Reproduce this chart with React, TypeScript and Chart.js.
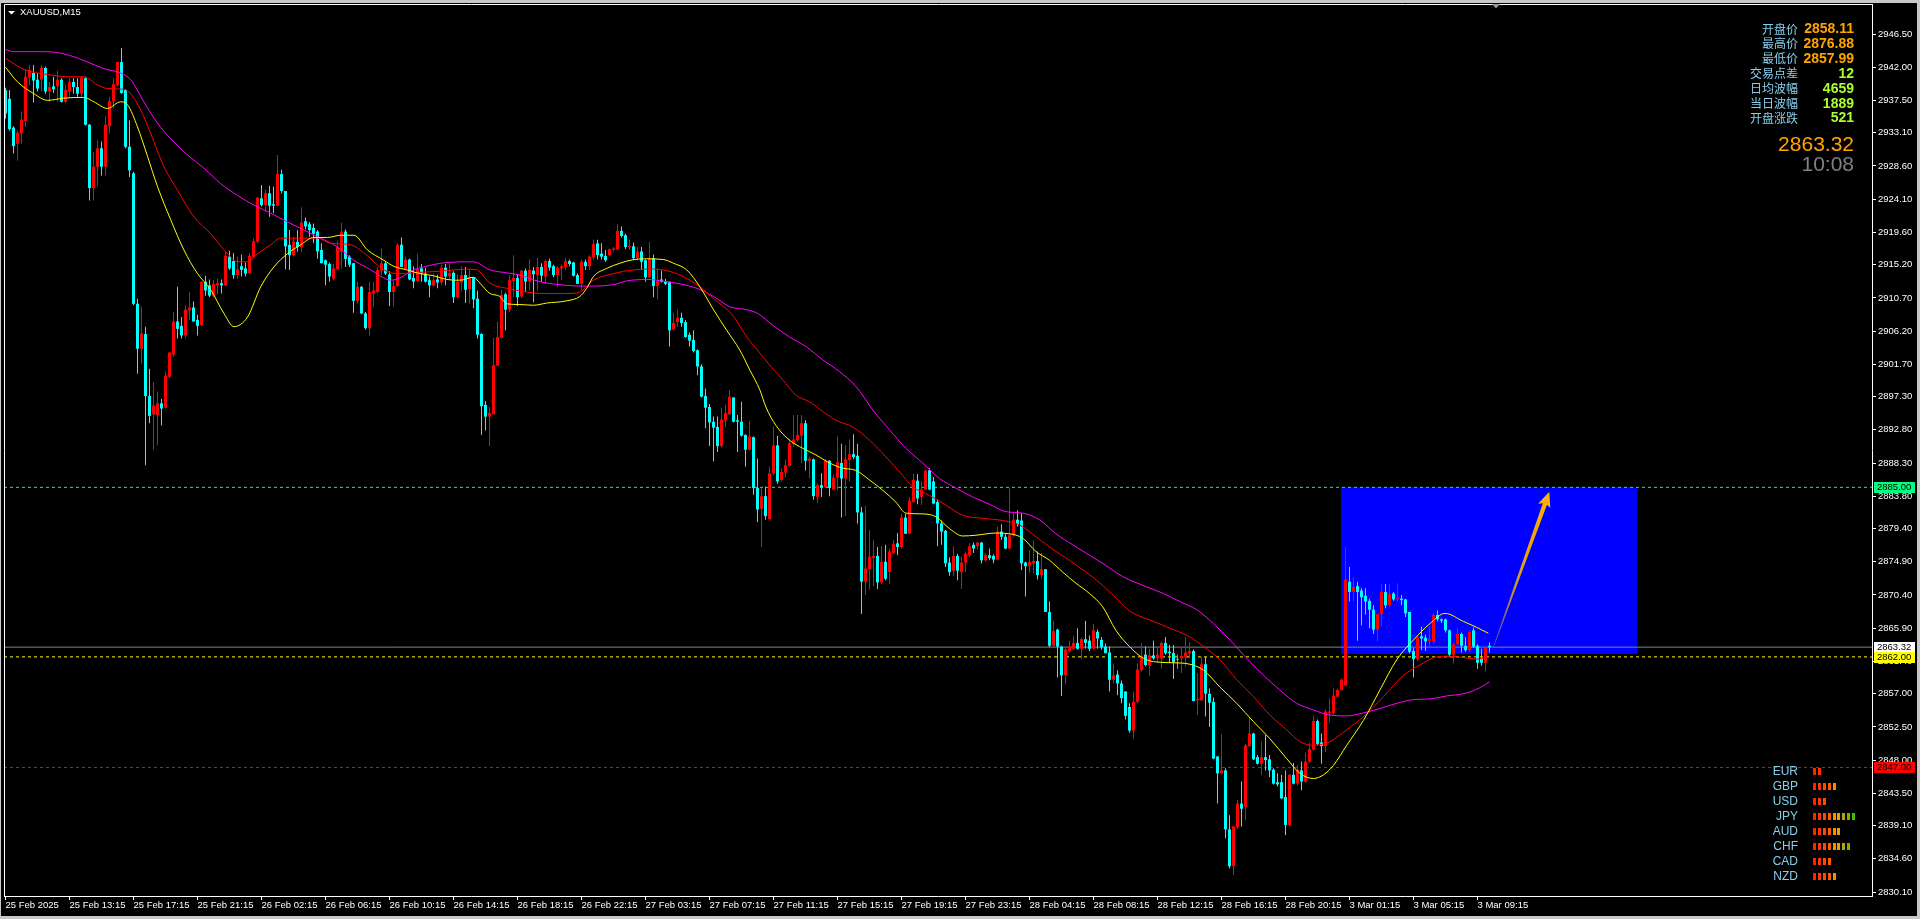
import React, { useEffect, useRef } from "react";
import { Chart, registerables } from "chart.js";

Chart.register(...registerables);

// ---------------- DATA ----------------
const SYMBOL = "XAUUSD,M15";

// 15-minute candles, bar 0 = 25 Feb 09:15 ... bar 371 = 3 Mar 10:00
const OPEN = [
  2938.9,2937.7,2933.8,2931.6,2933.0,2934.7,2940.6,2941.2,2940.3,2940.3,
  2941.9,2938.7,2939.4,2939.4,2940.3,2937.3,2938.7,2940.0,2939.3,2938.4,
  2940.5,2934.2,2925.6,2928.5,2931.0,2928.5,2934.0,2937.4,2939.6,2942.7,
  2938.9,2931.2,2927.6,2909.9,2903.8,2905.8,2897.4,2894.9,2894.8,2896.4,
  2895.8,2900.0,2903.0,2907.5,2906.9,2905.6,2909.0,2909.4,2907.7,2907.0,
  2912.9,2912.4,2911.0,2912.4,2912.7,2912.4,2916.3,2915.7,2913.8,2915.0,
  2914.7,2914.1,2916.3,2918.3,2924.2,2923.3,2924.9,2923.4,2923.2,2927.5,
  2925.2,2917.9,2916.5,2918.3,2917.6,2921.1,2920.7,2920.2,2919.7,2917.2,
  2915.8,2915.3,2913.3,2914.6,2917.0,2919.7,2916.3,2915.4,2910.3,2912.2,
  2908.6,2906.6,2911.3,2911.5,2914.4,2915.4,2913.9,2911.5,2912.3,2917.9,
  2914.6,2915.9,2913.4,2913.0,2914.7,2914.0,2913.1,2912.4,2913.2,2912.8,
  2914.8,2913.6,2914.1,2910.8,2912.8,2913.8,2911.9,2913.4,2910.6,2905.8,
  2896.2,2894.6,2894.9,2901.5,2905.3,2911.2,2909.1,2913.0,2913.4,2910.9,
  2914.4,2912.9,2914.4,2913.8,2914.9,2913.6,2915.7,2915.0,2913.8,2914.7,
  2914.9,2915.7,2915.5,2913.8,2912.6,2915.6,2915.0,2916.2,2918.1,2916.7,
  2916.4,2916.5,2917.2,2917.3,2919.8,2919.2,2917.6,2917.7,2916.1,2917.0,
  2915.8,2913.5,2916.1,2912.3,2913.2,2912.9,2912.9,2906.4,2907.4,2908.0,
  2907.4,2905.7,2905.0,2903.6,2901.4,2897.4,2895.9,2893.9,2893.2,2890.6,
  2894.1,2894.9,2897.2,2894.1,2893.9,2892.1,2890.1,2891.8,2884.9,2882.1,
  2883.8,2880.7,2886.9,2890.7,2886.0,2887.0,2887.9,2890.9,2891.4,2892.0,
  2893.7,2888.6,2888.8,2883.7,2885.3,2885.0,2888.6,2884.7,2886.3,2888.3,
  2886.2,2888.7,2889.5,2889.3,2881.6,2872.2,2873.9,2875.4,2875.7,2872.1,
  2874.9,2873.5,2876.1,2877.4,2876.9,2880.9,2878.7,2883.0,2885.9,2883.7,
  2884.7,2887.3,2885.8,2883.0,2880.1,2879.1,2874.8,2873.7,2875.7,2873.5,
  2874.8,2875.8,2877.2,2877.0,2877.5,2875.1,2875.8,2875.7,2875.2,2879.0,
  2878.3,2876.7,2878.5,2880.6,2880.5,2874.8,2874.3,2874.7,2875.0,2873.1,
  2873.9,2868.1,2863.5,2865.7,2863.4,2859.5,2862.8,2863.1,2863.9,2863.1,
  2864.4,2864.2,2863.1,2865.4,2864.3,2863.4,2862.6,2858.9,2859.6,2858.4,
  2857.3,2855.2,2852.0,2855.9,2860.2,2862.3,2860.8,2862.2,2861.8,2861.8,
  2863.9,2862.7,2862.5,2861.6,2861.8,2862.0,2862.5,2862.8,2856.1,2856.1,
  2861.0,2857.0,2855.9,2848.5,2846.2,2846.6,2838.6,2833.6,2838.9,2842.1,
  2841.6,2849.9,2851.6,2848.4,2847.5,2848.4,2848.1,2846.7,2845.0,2845.0,
  2843.0,2839.2,2846.0,2844.8,2846.6,2845.1,2847.8,2849.4,2853.3,2850.4,
  2849.9,2854.4,2854.4,2856.6,2857.5,2858.1,2872.2,2870.8,2871.6,2871.0,
  2870.3,2869.6,2868.4,2865.7,2867.8,2870.8,2869.0,2870.6,2869.8,2869.9,
  2869.8,2868.1,2862.8,2861.7,2864.8,2864.6,2864.1,2864.1,2867.7,2867.1,
  2867.1,2865.6,2862.3,2863.7,2865.1,2863.5,2862.9,2865.6,2863.5,2861.8,
  2861.2,2863.5,
];

const HIGH = [
  2939.2,2938.9,2934.0,2933.4,2936.0,2941.6,2942.3,2942.3,2941.2,2942.3,
  2942.1,2940.0,2940.7,2941.5,2940.5,2939.6,2940.5,2940.5,2940.5,2940.7,
  2940.7,2934.3,2930.5,2932.1,2931.9,2935.4,2938.0,2940.5,2942.7,2944.6,
  2939.0,2934.8,2927.8,2910.6,2909.5,2906.8,2901.1,2899.3,2898.0,2897.0,
  2900.7,2903.3,2908.8,2912.2,2908.1,2909.7,2911.5,2910.2,2908.4,2912.9,
  2913.7,2913.2,2913.1,2913.3,2913.2,2917.0,2917.1,2916.8,2916.3,2916.6,
  2915.5,2916.8,2918.8,2924.4,2926.0,2925.4,2925.9,2925.8,2930.1,2928.1,
  2925.2,2919.9,2919.0,2919.9,2923.0,2921.6,2921.0,2920.8,2919.9,2918.1,
  2915.9,2915.5,2915.3,2918.5,2920.9,2920.0,2916.5,2915.4,2912.9,2912.3,
  2908.8,2912.9,2912.9,2914.9,2917.4,2915.6,2914.3,2913.1,2918.1,2918.9,
  2916.3,2916.0,2915.0,2916.7,2915.3,2914.8,2913.6,2914.0,2913.8,2915.2,
  2915.3,2915.4,2914.3,2913.9,2915.0,2914.9,2914.6,2913.5,2911.7,2905.9,
  2896.7,2895.9,2905.3,2907.5,2911.8,2911.4,2913.8,2916.5,2913.8,2914.5,
  2914.7,2915.9,2914.9,2916.1,2915.4,2915.9,2916.0,2915.2,2915.0,2915.2,
  2916.1,2915.9,2915.6,2914.0,2915.9,2915.9,2916.5,2918.6,2918.6,2918.1,
  2917.2,2917.4,2917.6,2920.7,2920.4,2919.4,2918.6,2918.2,2917.6,2917.6,
  2915.9,2918.3,2916.6,2914.7,2914.4,2913.3,2912.9,2908.6,2909.1,2908.7,
  2907.7,2906.0,2906.3,2903.7,2901.7,2898.4,2896.3,2894.6,2894.6,2895.8,
  2896.2,2898.2,2897.2,2894.8,2896.6,2892.2,2894.0,2891.9,2888.9,2884.9,
  2885.1,2887.8,2893.3,2892.0,2887.6,2888.8,2891.6,2894.8,2894.8,2894.8,
  2894.1,2889.1,2888.9,2885.5,2886.9,2888.8,2888.7,2886.7,2891.9,2890.9,
  2890.7,2891.5,2892.2,2890.9,2882.3,2882.5,2879.2,2877.9,2876.9,2877.0,
  2877.2,2876.7,2877.9,2878.8,2881.4,2881.4,2883.7,2886.8,2886.8,2885.8,
  2887.3,2887.6,2886.4,2883.3,2880.5,2879.2,2875.5,2877.0,2876.0,2875.6,
  2876.3,2877.4,2877.5,2877.6,2877.6,2876.1,2876.7,2875.9,2879.7,2880.0,
  2878.7,2884.9,2881.5,2881.9,2881.5,2874.9,2876.5,2877.8,2876.3,2876.1,
  2873.9,2869.5,2866.9,2865.8,2863.5,2863.4,2864.2,2864.8,2865.9,2864.6,
  2866.9,2864.9,2866.5,2865.7,2864.7,2863.8,2863.4,2861.1,2860.2,2858.8,
  2857.3,2855.7,2857.3,2861.1,2863.8,2863.4,2863.1,2864.2,2863.4,2864.1,
  2864.7,2863.6,2863.6,2862.3,2863.2,2864.7,2864.0,2863.0,2859.8,2862.0,
  2862.0,2857.7,2856.5,2848.5,2851.5,2846.9,2840.5,2839.0,2842.6,2845.1,
  2850.2,2853.7,2851.7,2848.7,2850.5,2851.4,2848.7,2846.9,2846.2,2846.0,
  2846.6,2846.1,2847.6,2847.3,2847.8,2849.0,2850.4,2854.0,2853.5,2851.6,
  2854.9,2856.4,2857.7,2857.7,2859.1,2876.9,2874.2,2872.8,2872.2,2871.3,
  2871.3,2869.9,2869.0,2867.9,2871.9,2871.9,2871.9,2870.8,2872.0,2870.4,
  2869.9,2868.1,2863.2,2864.8,2866.1,2865.0,2866.1,2867.9,2868.3,2867.2,
  2867.2,2865.7,2863.9,2865.9,2865.3,2864.7,2865.6,2866.0,2863.7,2863.1,
  2863.5,2864.0,
];

const LOW = [
  2935.0,2933.4,2930.3,2929.3,2931.6,2933.9,2939.5,2937.2,2938.7,2938.7,
  2938.4,2937.3,2938.5,2937.3,2937.2,2937.1,2938.0,2938.4,2938.0,2938.0,
  2934.1,2923.9,2923.9,2925.8,2927.3,2927.3,2933.0,2936.4,2939.4,2938.4,
  2931.0,2927.1,2909.7,2900.4,2901.8,2888.0,2893.7,2890.1,2890.7,2893.4,
  2895.7,2899.8,2902.7,2905.2,2905.2,2905.2,2907.7,2907.5,2905.6,2906.9,
  2911.0,2910.8,2910.8,2911.2,2911.3,2912.3,2914.5,2913.3,2913.3,2913.6,
  2913.6,2914.0,2916.1,2918.1,2923.1,2922.4,2921.7,2922.2,2923.1,2924.9,
  2914.6,2914.5,2916.3,2917.0,2916.9,2920.0,2919.0,2918.1,2916.0,2915.4,
  2912.4,2912.9,2913.1,2914.6,2914.7,2914.9,2914.9,2908.7,2909.9,2908.5,
  2906.4,2905.6,2909.5,2911.3,2913.8,2913.8,2909.6,2909.5,2912.2,2914.9,
  2914.5,2913.1,2912.0,2912.9,2912.9,2912.8,2910.8,2912.2,2912.0,2912.4,
  2912.4,2913.1,2910.0,2910.6,2911.7,2910.0,2909.9,2909.3,2905.2,2892.1,
  2892.7,2890.6,2894.9,2901.5,2905.2,2906.3,2908.8,2910.8,2909.6,2910.7,
  2911.5,2911.7,2910.1,2911.7,2912.9,2912.6,2914.4,2913.5,2912.2,2913.1,
  2914.5,2915.0,2913.6,2912.6,2911.8,2914.5,2914.5,2915.9,2915.9,2915.9,
  2915.6,2916.3,2917.0,2917.2,2918.9,2917.3,2917.2,2915.8,2915.8,2914.5,
  2912.9,2913.4,2910.8,2910.5,2912.8,2912.4,2904.1,2906.3,2906.8,2906.8,
  2905.3,2904.1,2903.3,2900.2,2897.2,2893.0,2890.6,2888.5,2889.8,2890.4,
  2893.2,2894.8,2893.8,2889.8,2891.9,2887.8,2890.0,2884.0,2880.3,2876.9,
  2880.6,2880.5,2886.7,2885.5,2885.8,2886.4,2887.8,2890.5,2891.2,2888.3,
  2887.3,2886.2,2883.3,2882.9,2883.7,2884.9,2883.8,2884.6,2884.6,2880.9,
  2881.1,2885.8,2888.8,2880.1,2867.8,2870.4,2871.1,2871.6,2871.2,2871.9,
  2872.4,2871.9,2875.9,2875.8,2876.7,2878.7,2878.7,2882.9,2882.7,2882.6,
  2884.6,2884.6,2882.7,2877.0,2877.2,2874.2,2873.0,2873.0,2872.4,2871.2,
  2873.5,2875.5,2876.1,2876.6,2874.7,2874.9,2875.1,2874.7,2875.1,2877.9,
  2876.6,2876.6,2878.3,2879.7,2873.8,2870.2,2873.4,2873.3,2872.5,2872.6,
  2868.1,2863.3,2863.4,2859.2,2856.7,2858.3,2862.6,2863.0,2863.0,2861.7,
  2863.1,2862.8,2863.0,2863.1,2863.0,2862.5,2857.3,2858.4,2856.8,2855.7,
  2853.5,2851.7,2850.9,2855.7,2860.0,2860.7,2859.4,2861.6,2861.3,2860.4,
  2862.3,2861.3,2859.0,2860.4,2859.8,2860.7,2861.8,2856.0,2854.1,2856.0,
  2853.9,2852.5,2848.1,2842.1,2846.2,2837.4,2833.3,2832.4,2838.7,2839.0,
  2839.9,2849.8,2848.0,2847.4,2846.0,2846.6,2845.7,2844.7,2844.4,2842.7,
  2837.8,2839.0,2844.7,2844.5,2843.9,2844.9,2847.6,2849.3,2850.0,2847.5,
  2849.1,2853.1,2854.2,2856.5,2857.4,2858.0,2869.5,2869.5,2864.2,2866.3,
  2867.7,2865.9,2865.1,2864.1,2866.1,2868.6,2868.8,2869.6,2869.5,2869.0,
  2867.4,2862.5,2859.2,2861.4,2862.9,2862.8,2863.2,2863.7,2866.8,2866.6,
  2865.3,2862.0,2861.1,2863.5,2862.6,2862.7,2862.7,2863.2,2860.4,2860.8,
  2860.0,2862.6,
];

const CLOSE = [
  2935.7,2933.6,2931.3,2933.1,2934.9,2940.7,2941.6,2940.2,2939.1,2941.9,
  2938.7,2939.3,2939.0,2940.3,2937.3,2938.9,2940.0,2939.3,2938.4,2940.6,
  2934.2,2925.6,2928.5,2931.0,2928.5,2934.2,2937.4,2939.7,2942.7,2938.5,
  2931.2,2928.0,2909.9,2903.8,2905.9,2897.4,2894.7,2896.1,2896.4,2895.7,
  2900.1,2903.3,2907.5,2906.5,2905.6,2909.1,2909.4,2907.5,2906.9,2912.9,
  2911.7,2911.0,2912.6,2912.7,2912.4,2916.4,2914.7,2913.8,2914.6,2914.5,
  2914.0,2916.4,2918.4,2924.3,2923.3,2924.9,2923.2,2923.2,2927.5,2925.2,
  2917.7,2916.5,2918.3,2917.6,2920.9,2920.4,2919.9,2919.4,2917.0,2915.4,
  2915.2,2913.6,2914.7,2917.6,2919.7,2916.0,2915.2,2910.3,2912.2,2908.6,
  2906.6,2911.5,2911.7,2914.5,2915.4,2914.0,2911.5,2912.3,2917.9,2914.9,
  2915.9,2913.2,2912.9,2914.6,2914.0,2912.9,2912.4,2913.1,2912.8,2914.8,
  2913.6,2914.1,2910.8,2912.9,2913.8,2911.8,2913.5,2910.5,2905.7,2896.0,
  2894.6,2895.1,2901.6,2905.4,2911.1,2909.1,2913.1,2913.4,2910.8,2914.4,
  2912.9,2914.5,2913.9,2914.9,2913.7,2915.7,2914.8,2913.8,2914.8,2915.0,
  2915.7,2915.3,2913.7,2912.6,2915.6,2915.0,2916.3,2918.0,2916.5,2916.3,
  2915.8,2917.3,2917.4,2919.8,2919.1,2917.6,2917.7,2916.1,2917.0,2915.6,
  2913.5,2916.1,2912.3,2913.0,2912.9,2912.6,2906.3,2907.3,2908.0,2907.3,
  2905.4,2904.9,2903.5,2901.4,2897.3,2895.8,2893.8,2893.1,2890.6,2894.2,
  2895.1,2897.3,2893.9,2893.9,2892.0,2890.1,2891.9,2884.9,2882.0,2883.8,
  2881.1,2886.9,2890.7,2885.8,2887.1,2888.0,2891.0,2891.5,2892.1,2893.7,
  2888.6,2888.9,2883.8,2885.3,2885.0,2888.6,2884.9,2886.3,2888.4,2886.2,
  2888.8,2889.5,2889.1,2881.6,2872.2,2874.0,2875.6,2875.7,2872.1,2874.9,
  2872.6,2876.3,2877.3,2876.9,2880.9,2878.7,2883.2,2886.0,2883.5,2884.7,
  2887.3,2884.7,2882.8,2880.1,2879.0,2874.7,2873.5,2875.7,2873.7,2874.8,
  2876.0,2877.0,2876.7,2877.5,2875.1,2875.8,2875.4,2875.2,2879.0,2878.3,
  2876.7,2878.5,2880.6,2880.0,2874.7,2874.3,2874.9,2875.0,2873.1,2873.9,
  2868.1,2863.5,2865.5,2863.4,2859.5,2863.0,2863.4,2863.9,2863.1,2864.4,
  2863.9,2863.1,2865.6,2864.5,2863.3,2862.5,2858.9,2859.5,2858.4,2856.4,
  2854.0,2852.0,2855.9,2860.3,2862.1,2860.9,2862.2,2861.8,2862.3,2863.9,
  2862.5,2862.5,2861.3,2861.6,2862.1,2862.6,2862.8,2856.0,2856.3,2861.0,
  2857.0,2855.8,2848.2,2846.2,2846.6,2838.6,2833.6,2839.0,2842.1,2841.4,
  2850.0,2851.6,2848.1,2847.5,2848.4,2848.0,2846.6,2844.8,2844.7,2842.8,
  2839.2,2846.0,2844.8,2846.7,2845.1,2847.8,2849.5,2853.3,2850.2,2849.9,
  2854.6,2854.6,2856.7,2857.5,2858.9,2872.5,2870.8,2871.5,2870.8,2870.1,
  2869.5,2868.4,2865.7,2867.8,2870.8,2869.0,2870.5,2869.8,2869.9,2869.7,
  2867.9,2862.7,2861.7,2864.6,2864.5,2864.1,2864.4,2867.7,2867.1,2866.9,
  2865.6,2862.3,2863.7,2865.1,2863.5,2862.9,2865.4,2863.4,2861.2,2861.2,
  2863.3,2863.32,
];

// moving averages (read at sample bars)
const MA_FAST_BARS = [0,3,7.1,10.5,14.6,19.6,22.1,25.5,28.8,30.5,33,35.5,38,41.3,44.6,48,51.3,54.6,57.1,60.5,63.8,67.1,70.5,73.8,77.1,80.5,83.8,87.1,90.5,94.6,97,100.3,103.6,107,110.3,113.6,117,118.6,121.1,123.6,125.3,128.6,132,135.3,140.3,143.6,145.3,147,150.3,153.6,157,160.3,164.5,167,170.3,173.6,177,180.3,183.6,186.1,188.6,190.1,192.6,196,199.3,202.6,206,209.3,212.6,216,219.3,222.6,225.1,229.3,232.6,236,239.3,242.6,247.6,251,254.3,257.6,261,264.3,267.6,271,274.3,277.6,281,284.5,287.8,292,296.1,299.5,303.6,307.8,312,316.1,320.3,323.6,327,329.5,332,335.3,339.5,343.6,347.8,352,356.1,359.9,364.5,367.8,370.7];
const MA_FAST_VALUES = [2942.0,2940.0,2938.4,2937.5,2937.8,2937.9,2937.3,2936.4,2937.3,2936.9,2933.9,2929.9,2925.8,2921.3,2917.2,2914.0,2911.8,2908.6,2906.8,2908.1,2912.2,2914.9,2916.7,2917.9,2918.9,2918.9,2919.2,2919.2,2917.2,2915.8,2915.0,2914.5,2914.0,2913.7,2913.2,2913.1,2913.5,2912.7,2911.3,2910.9,2909.9,2909.8,2909.7,2910.0,2910.3,2910.9,2912.0,2913.6,2914.7,2915.4,2915.9,2916.0,2915.9,2915.4,2914.5,2912.2,2909.1,2906.3,2903.6,2900.9,2898.2,2895.9,2893.4,2891.4,2890.3,2889.4,2888.3,2887.6,2887.3,2886.0,2884.6,2883.0,2881.5,2881.4,2881.0,2879.4,2878.4,2878.5,2878.8,2878.7,2878.1,2876.3,2875.1,2873.5,2872.0,2870.6,2868.8,2865.6,2863.4,2861.8,2861.3,2861.2,2861.0,2860.2,2857.9,2855.7,2853.2,2850.9,2848.2,2846.2,2845.5,2846.0,2847.3,2850.0,2853.4,2857.5,2861.6,2864.3,2866.5,2867.9,2866.8,2866.0,2865.2];

const MA_MID_BARS = [0,4.6,10.5,16.3,19.6,23,25.5,29.6,31.3,33.8,36.3,39.6,43,47.1,51.3,55,58,60.5,63,66.3,68.8,73,78,81.3,86.3,89.6,94.6,97.8,102,110.3,115.3,117.8,121.1,125.3,130.3,133.6,140.3,143.6,147,152,157,162,165.3,168.6,173.6,177,182,185.3,188,191,194.3,197.6,201,204.3,207.6,211.8,216,219.3,223.5,226.8,231,235.1,239.3,244.3,249.3,253.5,257.6,261.8,266,270.1,274.3,278.5,281.1,286.1,291.1,296.1,299.5,303.6,307.8,312,316.1,320.3,323.6,327,331.1,335.3,339.5,344.5,349.5,353.6,357.8,361.1,364.5,367.8,371];
const MA_MID_VALUES = [2943.2,2941.7,2941.0,2940.7,2940.7,2939.6,2939.1,2939.0,2938.4,2936.2,2933.0,2928.5,2925.3,2921.7,2919.4,2917.0,2915.6,2915.6,2916.7,2917.9,2918.8,2918.8,2918.8,2918.1,2917.9,2916.8,2914.5,2914.0,2914.1,2914.4,2914.6,2914.5,2912.7,2912.0,2911.5,2911.3,2911.3,2911.5,2913.1,2914.0,2914.5,2914.6,2914.4,2913.8,2912.2,2910.6,2908.2,2905.4,2903.6,2901.6,2899.6,2897.5,2896.6,2895.3,2894.1,2893.2,2891.4,2889.6,2887.1,2885.1,2883.9,2882.6,2881.2,2880.8,2880.5,2879.9,2878.3,2876.6,2875.1,2873.5,2871.7,2869.5,2868.2,2867.0,2865.9,2864.7,2863.4,2861.6,2858.9,2856.6,2854.1,2852.1,2850.5,2850.0,2850.5,2852.1,2853.9,2856.6,2859.5,2860.9,2862.0,2862.1,2861.9,2861.7,2862.0];

const MA_SLOW_BARS = [0,2,10.5,16,20.5,24.6,28.8,31.3,34.6,38,41.3,45.5,49.6,53.8,58,62.1,66.3,70.5,74.6,78.8,83,87.1,91.3,94.6,96.1,98.6,102,104.5,110.3,117,121.1,125.3,128.6,133.6,140.3,145.3,152,155.3,160.3,165.3,168.6,172.8,177,181.1,185.3,188,191.8,196,200.1,204.3,208.5,212.6,216.8,221,225.1,229.3,233.5,237.6,241.8,246,250.1,254.3,258.5,262.6,266.8,271,275.1,279.3,285.3,289.5,293.6,297.8,302,306.1,310.3,314.5,318.6,322.8,327,331.1,335.3,339.5,343.6,347.8,352,356.1,360.3,364.5,367.8,371];
const MA_SLOW_VALUES = [2944.4,2944.1,2944.1,2943.6,2942.7,2941.8,2941.2,2940.3,2937.3,2934.4,2932.3,2930.1,2928.3,2926.2,2924.6,2923.3,2922.2,2921.0,2919.9,2918.8,2917.6,2915.8,2914.5,2913.4,2913.1,2913.4,2914.5,2914.9,2915.5,2915.6,2914.5,2914.1,2913.8,2912.9,2912.4,2912.3,2912.5,2913.0,2913.2,2912.9,2912.6,2912.0,2910.9,2909.5,2909.1,2908.6,2907.0,2905.4,2904.1,2902.3,2900.7,2898.7,2895.5,2892.8,2890.3,2888.3,2886.2,2884.9,2883.7,2882.7,2881.7,2881.5,2880.6,2878.7,2877.2,2875.8,2874.4,2872.9,2871.5,2870.6,2869.5,2868.4,2866.5,2864.3,2861.8,2859.5,2857.5,2855.7,2854.8,2854.1,2854.0,2854.4,2855.0,2855.7,2856.2,2856.3,2856.7,2857.0,2857.6,2858.6];

// time axis labels (every 16 bars)
const X_TICK_BARS = [0,16,32,48,64,80,96,112,128,144,160,176,192,208,224,240,256,272,288,304,320,336,352,368];
const X_TICK_LABELS = [
  "25 Feb 2025","25 Feb 13:15","25 Feb 17:15","25 Feb 21:15","26 Feb 02:15","26 Feb 06:15",
  "26 Feb 10:15","26 Feb 14:15","26 Feb 18:15","26 Feb 22:15","27 Feb 03:15","27 Feb 07:15",
  "27 Feb 11:15","27 Feb 15:15","27 Feb 19:15","27 Feb 23:15","28 Feb 04:15","28 Feb 08:15",
  "28 Feb 12:15","28 Feb 16:15","28 Feb 20:15","3 Mar 01:15","3 Mar 05:15","3 Mar 09:15",
];
const Y_TICKS = [2946.5,2942.0,2937.5,2933.1,2928.6,2924.1,2919.6,2915.2,2910.7,2906.2,2901.7,2897.3,2892.8,2888.3,2883.8,2879.4,2874.9,2870.4,2865.9,2861.4,2857.0,2852.5,2848.0,2843.5,2839.1,2834.6,2830.1];

// levels & objects
const LEVEL_TARGET = 2885.0;
const LEVEL_ENTRY = 2862.0;
const LEVEL_STOP = 2847.0;
const BID = 2863.32;
const ZONE_BARS = [333.875, 407.875];
const ZONE_PRICES = [2862.4, 2885.0];
const ARROW_BARS = [372.1, 385.95];
const ARROW_PRICES = [2863.5, 2884.4];

// info panel
const INFO_LABELS = ["开盘价","最高价","最低价","交易点差","日均波幅","当日波幅","开盘涨跌"];
const INFO_VALUES = ["2858.11","2876.88","2857.99","12","4659","1889","521"];
const CLOCK = "10:08";

// currency strength panel
const CURRENCIES = ["EUR","GBP","USD","JPY","AUD","CHF","CAD","NZD"];
const STRENGTH = [2,5,3,9,6,8,4,5];

// ---------------- STYLE ----------------
const W = 1920, H = 919;
const X_MIN = -0.375, X_MAX = 466.625;
const Y_MIN = 2829.56, Y_MAX = 2950.57;
const BULL = "#FF0000", BEAR = "#00FFFF", DOJI = "#00FF00";
const STRENGTH_COLORS = ["#FF2400","#FF3600","#FF4800","#FF5A00","#FF8A00","#E8A000","#B4A400","#84AC00","#3CC400"];
const FONT = "Liberation Sans";

export default function App() {
  const ref = useRef<HTMLCanvasElement | null>(null);

  useEffect(() => {
    const canvas = ref.current;
    if (!canvas) return;

    const colors = OPEN.map((o, i) => (CLOSE[i] > o ? BULL : CLOSE[i] < o ? BEAR : DOJI));
    const wickData = OPEN.map((o, i) => ({ x: i, y: [LOW[i], HIGH[i]] }));
    const bodyData = OPEN.map((o, i) => ({ x: i, y: [Math.min(o, CLOSE[i]), Math.max(o, CLOSE[i])] }));

    const level = (v: number, color: string, dash: number[], order: number) => ({
      type: "line",
      data: [{ x: X_MIN, y: v }, { x: X_MAX, y: v }],
      borderColor: color, borderWidth: 1, borderDash: dash,
      pointRadius: 0, fill: false, order,
    });
    const ma = (xs: number[], ys: number[], color: string, order: number) => ({
      type: "line",
      data: xs.map((x, k) => ({ x, y: ys[k] })),
      borderColor: color, borderWidth: 1, pointRadius: 0,
      cubicInterpolationMode: "monotone", fill: false, order,
    });

    const datasets: any[] = [
      {
        type: "line",
        data: [{ x: ZONE_BARS[0], y: ZONE_PRICES[1] }, { x: ZONE_BARS[1], y: ZONE_PRICES[1] }],
        borderColor: "rgba(0,0,0,0)", borderWidth: 0, backgroundColor: "#0000FF",
        pointRadius: 0, fill: "+1", order: 30,
      },
      {
        type: "line",
        data: [{ x: ZONE_BARS[0], y: ZONE_PRICES[0] }, { x: ZONE_BARS[1], y: ZONE_PRICES[0] }],
        borderColor: "rgba(0,0,0,0)", borderWidth: 0, pointRadius: 0, fill: false, order: 29,
      },
      level(LEVEL_TARGET, "#00FF7F", [3, 3], 20),
      level(LEVEL_ENTRY, "#FFFF00", [3, 3], 20),
      level(LEVEL_STOP, "#FF0000", [3, 3], 20),
      level(BID, "#778899", [], 19),
      {
        type: "bar", data: wickData, backgroundColor: colors,
        barPercentage: 1, categoryPercentage: 1, maxBarThickness: 1,
        grouped: false, inflateAmount: 0, borderWidth: 0, order: 10,
      },
      {
        type: "bar", data: bodyData, backgroundColor: colors,
        barPercentage: 1, categoryPercentage: 1, maxBarThickness: 3, minBarLength: 1,
        grouped: false, inflateAmount: 0, borderWidth: 0, order: 9,
      },
      ma(MA_SLOW_BARS, MA_SLOW_VALUES, "#FF00FF", 5),
      ma(MA_MID_BARS, MA_MID_VALUES, "#FF0000", 4),
      ma(MA_FAST_BARS, MA_FAST_VALUES, "#FFFF00", 3),
    ];

    const overlay = {
      id: "mtOverlay",
      beforeDraw(chart: any) {
        const ctx = chart.ctx;
        ctx.save();
        ctx.fillStyle = "#000000";
        ctx.fillRect(0, 0, W, H);
        ctx.fillStyle = "#C8C8C8";
        ctx.fillRect(0, 0, W, 3);
        ctx.fillRect(0, 0, 1, H);
        ctx.fillRect(W - 3, 0, 3, H);
        ctx.fillRect(0, H - 3, W, 3);
        ctx.restore();
      },
      afterDraw(chart: any) {
        const ctx = chart.ctx;
        const xs = chart.scales.x, ys = chart.scales.y;
        const area = chart.chartArea;
        ctx.save();

        // frame top / left
        ctx.strokeStyle = "#FFFFFF";
        ctx.lineWidth = 1;
        ctx.beginPath();
        ctx.moveTo(area.left + 0.5, area.bottom);
        ctx.lineTo(area.left + 0.5, area.top + 0.5);
        ctx.lineTo(area.right + 0.5, area.top + 0.5);
        ctx.stroke();

        // arrow
        const tx = xs.getPixelForValue(ARROW_BARS[0]), ty = ys.getPixelForValue(ARROW_PRICES[0]);
        const hx = xs.getPixelForValue(ARROW_BARS[1]), hy = ys.getPixelForValue(ARROW_PRICES[1]);
        const dx = hx - tx, dy = hy - ty, len = Math.hypot(dx, dy);
        const ux = dx / len, uy = dy / len, nx = -uy, ny = ux;
        const headLen = 13, headHalf = 6.5, shaftHalf = 2.2;
        const bx = hx - ux * headLen, by = hy - uy * headLen;
        const grad = ctx.createLinearGradient(tx, ty, hx, hy);
        grad.addColorStop(0, "rgba(150,140,130,0.5)");
        grad.addColorStop(0.4, "#D89A20");
        grad.addColorStop(1, "#FFB400");
        ctx.fillStyle = grad;
        ctx.beginPath();
        ctx.moveTo(tx + nx * 0.4, ty + ny * 0.4);
        ctx.lineTo(bx + nx * shaftHalf, by + ny * shaftHalf);
        ctx.lineTo(bx + nx * headHalf - ux * 2, by + ny * headHalf - uy * 2);
        ctx.lineTo(hx, hy);
        ctx.lineTo(bx - nx * headHalf - ux * 2, by - ny * headHalf - uy * 2);
        ctx.lineTo(bx - nx * shaftHalf, by - ny * shaftHalf);
        ctx.lineTo(tx - nx * 0.4, ty - ny * 0.4);
        ctx.closePath();
        ctx.fill();

        // price boxes on the axis
        const box = (v: number, bg: string, fg: string) => {
          const py = Math.round(ys.getPixelForValue(v));
          ctx.fillStyle = bg;
          ctx.fillRect(area.right + 2, py - 5, 41, 11);
          ctx.fillStyle = fg;
          ctx.font = `9.5px "${FONT}"`;
          ctx.textAlign = "left";
          ctx.textBaseline = "middle";
          ctx.fillText(v.toFixed(2), area.right + 5, py + 0.5);
        };
        box(LEVEL_TARGET, "#00FF7F", "#000000");
        box(BID, "#FFFFFF", "#000000");
        box(LEVEL_ENTRY, "#FFFF00", "#000000");
        box(LEVEL_STOP, "#FF0000", "#000000");

        // title
        ctx.fillStyle = "#FFFFFF";
        ctx.beginPath();
        ctx.moveTo(8, 11); ctx.lineTo(15, 11); ctx.lineTo(11.5, 14.5); ctx.closePath();
        ctx.fill();
        ctx.font = `9.5px "${FONT}"`;
        ctx.textAlign = "left";
        ctx.textBaseline = "middle";
        ctx.fillText(SYMBOL, 20, 12.5);

        // chart shift marker
        ctx.fillStyle = "#9A9A9A";
        ctx.beginPath();
        ctx.moveTo(1492, 4); ctx.lineTo(1500, 4); ctx.lineTo(1496, 8.5); ctx.closePath();
        ctx.fill();

        // info panel
        ctx.textAlign = "right";
        ctx.textBaseline = "middle";
        INFO_LABELS.forEach((t, k) => {
          ctx.font = `12px "Noto Sans CJK SC"`;
          ctx.fillStyle = "#87CEEB";
          ctx.fillText(t, 1798, 29 + 14.85 * k);
          ctx.font = `bold 14px "${FONT}"`;
          ctx.fillStyle = k < 3 ? "#FFA500" : "#ADFF2F";
          ctx.fillText(INFO_VALUES[k], 1854, 29.5 + 14.85 * k);
        });
        ctx.font = `21px "${FONT}"`;
        ctx.fillStyle = "#FFA500";
        ctx.fillText(BID.toFixed(2), 1854, 145);
        ctx.fillStyle = "#808080";
        ctx.fillText(CLOCK, 1854, 165);

        // currency strength panel
        CURRENCIES.forEach((c, k) => {
          const cy = 771.5 + 15 * k;
          ctx.font = `12px "${FONT}"`;
          ctx.fillStyle = "#87CEEB";
          ctx.textAlign = "right";
          ctx.fillText(c, 1798, cy);
          for (let b = 0; b < STRENGTH[k]; b++) {
            ctx.fillStyle = STRENGTH_COLORS[b];
            ctx.fillRect(Math.round(1813 + b * 4.875), Math.round(cy - 3.5), 3, 7);
          }
        });

        ctx.restore();
      },
    };

    Chart.defaults.font.family = FONT;

    const chart = new Chart(canvas, {
      type: "bar",
      data: { datasets },
      plugins: [overlay],
      options: {
        responsive: false,
        animation: false,
        devicePixelRatio: 1,
        events: [],
        layout: { padding: { left: 4, top: 4, right: 0, bottom: 0 } },
        plugins: {
          legend: { display: false },
          tooltip: { enabled: false },
          title: { display: false },
        },
        scales: {
          x: {
            type: "linear",
            position: "bottom",
            min: X_MIN,
            max: X_MAX,
            offset: false,
            grid: { display: true, drawOnChartArea: false, drawTicks: true, tickLength: 4, color: "#FFFFFF", offset: false },
            border: { display: true, color: "#FFFFFF", width: 1 },
            ticks: {
              autoSkip: false, maxRotation: 0, minRotation: 0, align: "start", padding: 0,
              color: "#FFFFFF", font: { family: FONT, size: 9.5 },
              callback: (_v: any, idx: number) => X_TICK_LABELS[idx],
            },
            afterBuildTicks: (s: any) => { s.ticks = X_TICK_BARS.map((v) => ({ value: v })); },
            afterFit: (s: any) => { s.height = 23; s.paddingLeft = 0; s.paddingRight = 0; },
          },
          y: {
            type: "linear",
            position: "right",
            min: Y_MIN,
            max: Y_MAX,
            beginAtZero: false,
            grid: { display: true, drawOnChartArea: false, drawTicks: true, tickLength: 4, color: "#FFFFFF" },
            border: { display: true, color: "#FFFFFF", width: 1 },
            ticks: {
              autoSkip: false, padding: 2, color: "#FFFFFF",
              font: { family: FONT, size: 9.5 },
              callback: (v: any) => Number(v).toFixed(2),
            },
            afterBuildTicks: (s: any) => { s.ticks = Y_TICKS.map((v) => ({ value: v })); },
            afterFit: (s: any) => { s.width = 48; s.paddingTop = 0; s.paddingBottom = 0; },
          },
        },
      } as any,
    } as any);

    return () => chart.destroy();
  }, []);

  return (
    <div style={{ position: "fixed", left: 0, top: 0, width: W, height: H, background: "#000", overflow: "hidden" }}>
      <canvas ref={ref} width={W} height={H} style={{ display: "block", width: W, height: H }} />
    </div>
  );
}
